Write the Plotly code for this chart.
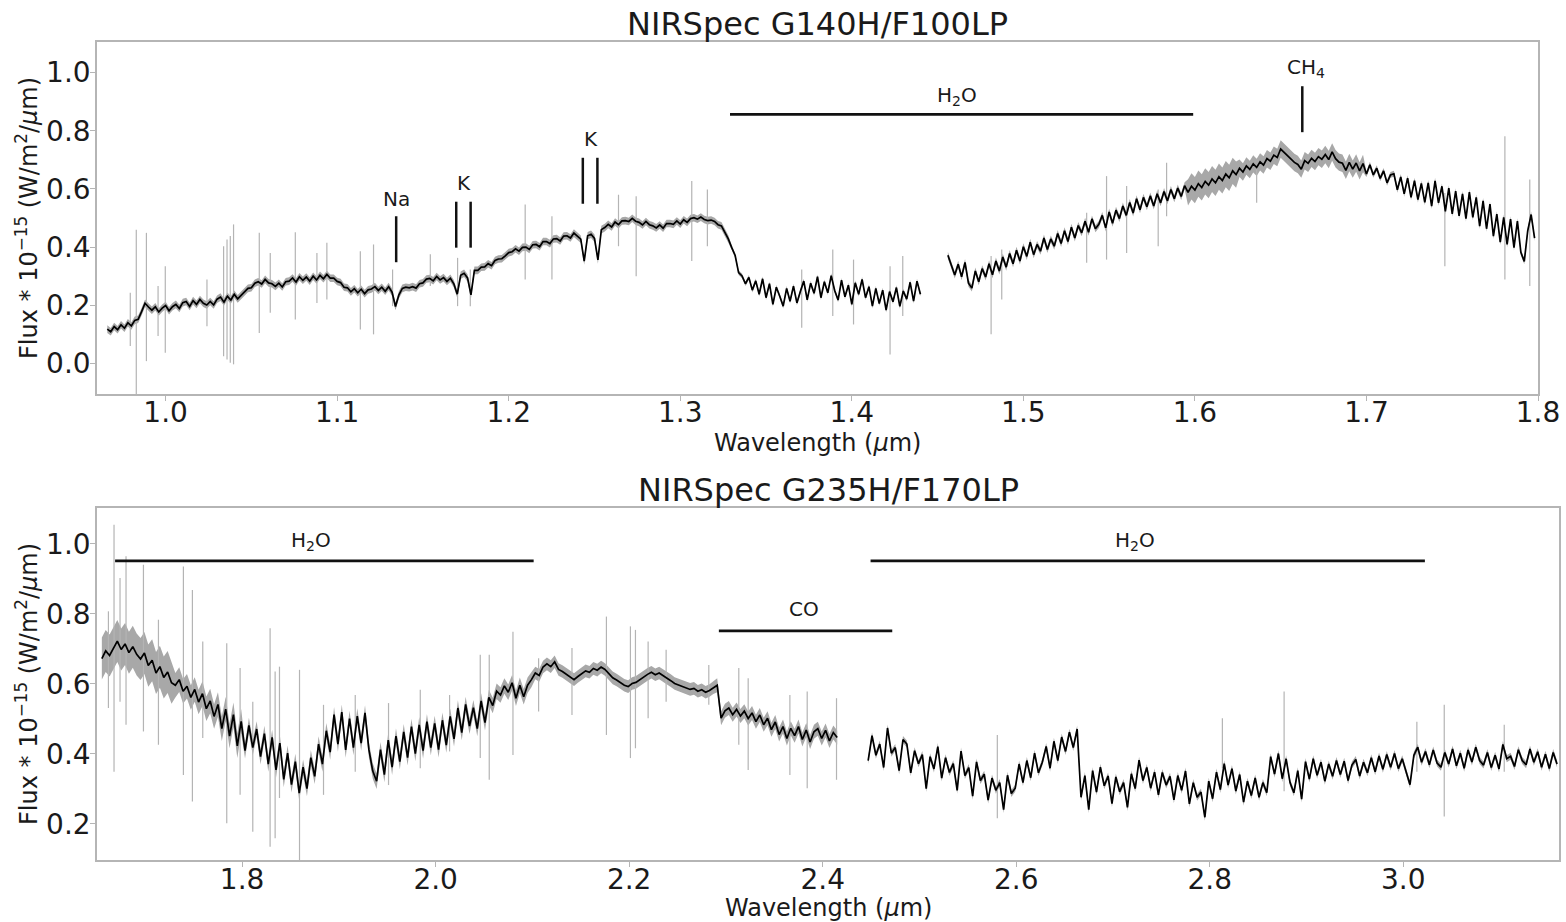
import numpy as np
import plotly.graph_objects as go

# ---------------------------------------------------------------------------
# NIRSpec G140H/F100LP : flux in units of 1e-15 W/m^2/um, two detector segments
# ---------------------------------------------------------------------------
g140h_a_range = (0.966, 1.440)
g140h_a_flux = [
    0.118, 0.109, 0.127, 0.116, 0.133, 0.121, 0.140, 0.129, 0.148, 0.152,
    0.178, 0.207, 0.194, 0.183, 0.195, 0.177, 0.190, 0.199, 0.181, 0.195,
    0.203, 0.189, 0.209, 0.213, 0.196, 0.216, 0.203, 0.220, 0.207, 0.201,
    0.213, 0.201, 0.221, 0.228, 0.211, 0.231, 0.218, 0.238, 0.222, 0.234,
    0.243, 0.258, 0.260, 0.276, 0.281, 0.273, 0.289, 0.277, 0.274, 0.265,
    0.276, 0.263, 0.281, 0.283, 0.294, 0.280, 0.298, 0.286, 0.297, 0.283,
    0.300, 0.287, 0.303, 0.291, 0.306, 0.293, 0.293, 0.282, 0.278, 0.262,
    0.260, 0.246, 0.257, 0.243, 0.255, 0.240, 0.253, 0.256, 0.264, 0.251,
    0.262, 0.248, 0.264, 0.245, 0.196, 0.236, 0.258, 0.262, 0.260, 0.264,
    0.259, 0.274, 0.277, 0.290, 0.292, 0.284, 0.299, 0.287, 0.295, 0.282,
    0.293, 0.274, 0.238, 0.303, 0.310, 0.294, 0.236, 0.320, 0.320, 0.331,
    0.332, 0.343, 0.336, 0.354, 0.359, 0.360, 0.370, 0.381, 0.384, 0.394,
    0.386, 0.399, 0.400, 0.392, 0.408, 0.409, 0.401, 0.419, 0.419, 0.412,
    0.428, 0.429, 0.421, 0.438, 0.439, 0.431, 0.448, 0.436, 0.427, 0.352,
    0.439, 0.444, 0.430, 0.356, 0.460, 0.467, 0.478, 0.469, 0.486, 0.477,
    0.490, 0.491, 0.488, 0.499, 0.489, 0.485, 0.476, 0.488, 0.477, 0.473,
    0.466, 0.476, 0.465, 0.481, 0.481, 0.478, 0.490, 0.479, 0.494, 0.485,
    0.498, 0.501, 0.496, 0.503, 0.495, 0.491, 0.493, 0.488, 0.477, 0.473,
    0.452, 0.428, 0.398, 0.371, 0.312, 0.301, 0.274, 0.296, 0.252, 0.284,
    0.238, 0.291, 0.226, 0.274, 0.203, 0.262, 0.231, 0.197, 0.258, 0.214,
    0.266, 0.208, 0.247, 0.283, 0.219, 0.276, 0.241, 0.298, 0.226, 0.281,
    0.243, 0.302, 0.251, 0.218, 0.286, 0.229, 0.269, 0.203, 0.277, 0.238,
    0.289, 0.226, 0.264, 0.197, 0.258, 0.206, 0.252, 0.183, 0.247, 0.212,
    0.261, 0.196, 0.249, 0.221, 0.279, 0.214, 0.283, 0.238,
]
g140h_b_range = (1.456, 1.798)
g140h_b_flux = [
    0.372, 0.336, 0.304, 0.341, 0.298, 0.347, 0.276, 0.259, 0.318, 0.281,
    0.326, 0.297, 0.343, 0.305, 0.352, 0.318, 0.366, 0.331, 0.378, 0.343,
    0.389, 0.352, 0.401, 0.368, 0.417, 0.374, 0.409, 0.386, 0.431, 0.392,
    0.428, 0.403, 0.447, 0.412, 0.456, 0.419, 0.468, 0.431, 0.474, 0.449,
    0.489, 0.451, 0.497, 0.463, 0.478, 0.509, 0.466, 0.521, 0.482, 0.527,
    0.498, 0.541, 0.509, 0.553, 0.517, 0.566, 0.528, 0.571, 0.539, 0.576,
    0.541, 0.583, 0.552, 0.591, 0.559, 0.598, 0.566, 0.603, 0.574, 0.611,
    0.588, 0.609, 0.596, 0.618, 0.605, 0.626, 0.613, 0.634, 0.621, 0.642,
    0.629, 0.651, 0.638, 0.662, 0.649, 0.671, 0.658, 0.679, 0.667, 0.686,
    0.674, 0.693, 0.682, 0.704, 0.695, 0.716, 0.708, 0.737, 0.726, 0.712,
    0.703, 0.691, 0.684, 0.668, 0.697, 0.688, 0.705, 0.694, 0.711, 0.702,
    0.718, 0.701, 0.727, 0.704, 0.692, 0.688, 0.664, 0.691, 0.668, 0.689,
    0.662, 0.687, 0.651, 0.683, 0.648, 0.671, 0.636, 0.662, 0.621, 0.648,
    0.652, 0.597, 0.641, 0.583, 0.637, 0.571, 0.628, 0.563, 0.619, 0.554,
    0.621, 0.541, 0.628, 0.552, 0.609, 0.523, 0.603, 0.514, 0.592, 0.507,
    0.583, 0.498, 0.589, 0.502, 0.571, 0.472, 0.559, 0.463, 0.548, 0.438,
    0.513, 0.417, 0.502, 0.409, 0.496, 0.398, 0.489, 0.382, 0.351, 0.456,
    0.512, 0.431,
]
# 1-sigma uncertainty, constant from each start wavelength onward
g140h_err_steps = [(0.96, 0.013), (1.33, 0.008), (1.45, 0.012),
                   (1.595, 0.045), (1.625, 0.030), (1.70, 0.010)]
# pixels with large error bars
g140h_spike_wave = [0.9794, 0.9829, 0.9888, 0.9956, 0.9998, 1.0241, 1.0338, 1.0358,
                    1.0377, 1.0396, 1.0546, 1.0610, 1.0756, 1.0882, 1.0940, 1.1135,
                    1.1212, 1.1323, 1.1543, 1.1702, 1.1776, 1.2096, 1.2252, 1.2640,
                    1.2743, 1.3067, 1.3158, 1.3708, 1.3889, 1.4010, 1.4223, 1.4297,
                    1.4812, 1.4874, 1.5369, 1.5485, 1.5602, 1.5786, 1.5835, 1.6360,
                    1.7457, 1.7807, 1.7952]
g140h_spike_lo = [0.060, -0.120, 0.008, 0.094, 0.037, 0.128, 0.025, 0.014,
                  0.002, -0.003, 0.105, 0.174, 0.151, 0.208, 0.220, 0.117,
                  0.100, 0.197, 0.266, 0.197, 0.197, 0.289, 0.289, 0.403,
                  0.300, 0.352, 0.403, 0.123, 0.163, 0.134, 0.031, 0.163,
                  0.100, 0.220, 0.346, 0.357, 0.380, 0.403, 0.506, 0.552,
                  0.334, 0.289, 0.266]
g140h_spike_hi = [0.243, 0.460, 0.449, 0.266, 0.334, 0.289, 0.403, 0.426,
                  0.438, 0.478, 0.449, 0.380, 0.451, 0.380, 0.415, 0.386,
                  0.409, 0.323, 0.375, 0.363, 0.323, 0.546, 0.506, 0.580,
                  0.575, 0.627, 0.598, 0.323, 0.392, 0.357, 0.334, 0.369,
                  0.369, 0.392, 0.518, 0.644, 0.610, 0.598, 0.690, 0.678,
                  0.586, 0.781, 0.632]

# ---------------------------------------------------------------------------
# NIRSpec G235H/F170LP
# ---------------------------------------------------------------------------
g235h_a_range = (1.655, 2.415)
g235h_a_flux = [
    0.672, 0.694, 0.681, 0.703, 0.722, 0.698, 0.714, 0.689, 0.706, 0.684,
    0.671, 0.688, 0.652, 0.667, 0.631, 0.649, 0.618, 0.634, 0.603, 0.596,
    0.612, 0.579, 0.593, 0.561, 0.584, 0.548, 0.572, 0.529, 0.551, 0.507,
    0.541, 0.472, 0.528, 0.451, 0.512, 0.423, 0.493, 0.409, 0.481, 0.418,
    0.471, 0.392, 0.458, 0.371, 0.447, 0.354, 0.431, 0.327, 0.402, 0.312,
    0.378, 0.288, 0.362, 0.301, 0.389, 0.336, 0.428, 0.371, 0.466, 0.405,
    0.512, 0.428, 0.519, 0.411, 0.501, 0.418, 0.508, 0.431, 0.517, 0.412,
    0.351, 0.322, 0.412, 0.341, 0.439, 0.362, 0.451, 0.378, 0.463, 0.389,
    0.478, 0.401, 0.483, 0.409, 0.492, 0.418, 0.487, 0.412, 0.496, 0.425,
    0.507, 0.443, 0.531, 0.461, 0.541, 0.479, 0.532, 0.472, 0.551, 0.489,
    0.561, 0.538, 0.579, 0.568, 0.594, 0.576, 0.603, 0.559, 0.596, 0.563,
    0.596, 0.612, 0.631, 0.624, 0.648, 0.657, 0.649, 0.663, 0.641, 0.635,
    0.627, 0.619, 0.612, 0.621, 0.628, 0.637, 0.633, 0.644, 0.639, 0.648,
    0.641, 0.629, 0.617, 0.611, 0.603, 0.596, 0.592, 0.601, 0.604, 0.612,
    0.619, 0.627, 0.633, 0.626, 0.631, 0.624, 0.618, 0.609, 0.601, 0.597,
    0.593, 0.589, 0.584, 0.587, 0.579, 0.583, 0.576, 0.581, 0.589, 0.596,
    0.502, 0.523, 0.531, 0.512, 0.527, 0.508, 0.522, 0.501, 0.517, 0.492,
    0.511, 0.483, 0.502, 0.469, 0.491, 0.455, 0.478, 0.444, 0.473, 0.452,
    0.478, 0.441, 0.468, 0.434, 0.463, 0.472, 0.444, 0.467, 0.437, 0.461,
    0.447,
]
g235h_b_range = (2.447, 3.159)
g235h_b_flux = [
    0.381, 0.452, 0.396, 0.428, 0.361, 0.474, 0.402, 0.418, 0.352, 0.441,
    0.428, 0.346, 0.409, 0.372, 0.398, 0.301, 0.392, 0.357, 0.421, 0.331,
    0.389, 0.347, 0.372, 0.296, 0.408, 0.338, 0.361, 0.279, 0.377, 0.324,
    0.342, 0.268, 0.331, 0.296, 0.318, 0.241, 0.339, 0.287, 0.302, 0.371,
    0.318, 0.381, 0.332, 0.402, 0.346, 0.376, 0.421, 0.359, 0.436, 0.381,
    0.448, 0.407, 0.462, 0.418, 0.471, 0.276, 0.338, 0.241, 0.352, 0.291,
    0.362, 0.309, 0.337, 0.258, 0.334, 0.292, 0.318, 0.247, 0.343, 0.301,
    0.382, 0.324, 0.361, 0.302, 0.348, 0.283, 0.347, 0.311, 0.336, 0.269,
    0.338, 0.296, 0.351, 0.257, 0.318, 0.276, 0.291, 0.219, 0.322, 0.272,
    0.348, 0.298, 0.372, 0.311, 0.358, 0.294, 0.341, 0.262, 0.322, 0.281,
    0.331, 0.276, 0.318, 0.289, 0.392, 0.342, 0.401, 0.329, 0.386, 0.318,
    0.289, 0.352, 0.271, 0.378, 0.328, 0.386, 0.339, 0.376, 0.322, 0.371,
    0.336, 0.381, 0.341, 0.379, 0.324, 0.368, 0.384, 0.337, 0.376, 0.346,
    0.389, 0.349, 0.394, 0.356, 0.398, 0.362, 0.401, 0.358, 0.386, 0.346,
    0.312, 0.396, 0.419, 0.376, 0.407, 0.369, 0.411, 0.374, 0.362, 0.404,
    0.371, 0.414, 0.366, 0.402, 0.359, 0.411, 0.377, 0.419, 0.381, 0.368,
    0.404, 0.361, 0.396, 0.357, 0.427, 0.386, 0.393, 0.364, 0.412, 0.381,
    0.369, 0.414, 0.376, 0.406, 0.362, 0.399, 0.358, 0.404, 0.371,
]
g235h_err_steps = [(1.65, 0.060), (1.73, 0.035), (1.80, 0.022), (2.10, 0.018),
                   (2.29, 0.020), (2.44, 0.010)]
g235h_spike_wave = [1.6618, 1.6676, 1.6738, 1.6800, 1.6980, 1.7135, 1.7393, 1.7486,
                    1.7593, 1.7841, 1.7979, 1.8110, 1.8289, 1.8341, 1.8386, 1.8593,
                    1.8841, 1.9169, 1.9513, 1.9841, 2.0144, 2.0461, 2.0554, 2.0799,
                    2.1064, 2.1409, 2.1765, 2.2013, 2.2065, 2.2196, 2.2382, 2.2823,
                    2.3133, 2.3230, 2.3661, 2.3840, 2.4143, 2.5805, 2.8131, 2.8769,
                    3.0141, 3.0424, 3.1044]
g235h_spike_lo = [0.531, 0.349, 0.549, 0.483, 0.464, 0.426, 0.340, 0.264,
                  0.445, 0.202, 0.283, 0.178, 0.135, 0.159, 0.274, 0.080,
                  0.283, 0.349, 0.311, 0.359, 0.407, 0.388, 0.326, 0.397,
                  0.521, 0.511, 0.454, 0.388, 0.416, 0.502, 0.549, 0.540,
                  0.426, 0.354, 0.340, 0.302, 0.326, 0.216, 0.359, 0.293,
                  0.349, 0.221, 0.349]
g235h_spike_hi = [0.807, 1.054, 0.902, 0.964, 0.940, 0.783, 0.935, 0.868,
                  0.721, 0.716, 0.645, 0.549, 0.759, 0.635, 0.649, 0.640,
                  0.540, 0.568, 0.545, 0.583, 0.568, 0.683, 0.683, 0.749,
                  0.673, 0.702, 0.792, 0.764, 0.754, 0.721, 0.697, 0.654,
                  0.645, 0.616, 0.568, 0.578, 0.559, 0.454, 0.502, 0.578,
                  0.492, 0.540, 0.483]

# Feature markers: vertical ticks (wavelength, y0, y1) and band bars (x0, x1, y)
g140h_line_ticks = [(1.1344, 0.348, 0.506), (1.1694, 0.398, 0.556), (1.1778, 0.398, 0.556),
                    (1.2432, 0.549, 0.707), (1.2517, 0.549, 0.707), (1.6626, 0.795, 0.953)]
g140h_bands = [(1.329, 1.599, 0.856)]
g140h_labels = [("Na", 1.1344, 0.567), ("K", 1.1737, 0.619), ("K", 1.2480, 0.770),
                ("H<sub>2</sub>O", 1.4611, 0.921), ("CH<sub>4</sub>", 1.6650, 1.017)]
g235h_bands = [(1.6687, 2.1013, 0.951), (2.2927, 2.4719, 0.751), (2.4495, 3.0224, 0.951)]
g235h_labels = [("H<sub>2</sub>O", 1.871, 1.009), ("CO", 2.3806, 0.814),
                ("H<sub>2</sub>O", 2.7223, 1.009)]

FONT = "DejaVu Sans"
TEXT = "#1a1a1a"
FRAME = "#b5b5b5"
BAND = "#a8a8a8"
SPIKE = "#b4b4b4"

W, H = 1566, 922


def seg_wave(rng, flux):
    return np.linspace(rng[0], rng[1], len(flux))


def seg_err(wave, steps):
    err = np.zeros_like(wave)
    for w0, e in steps:
        err[wave >= w0] = e
    return err


def spike_xy(wave, lo, hi):
    xs, ys = [], []
    for w, a, b in zip(wave, lo, hi):
        xs += [w, w, None]
        ys += [a, b, None]
    return xs, ys


fig = go.Figure()


def add_panel(segments, steps, spikes, xa, ya):
    # uncertainty envelope
    for rng, flux in segments:
        w = seg_wave(rng, flux)
        f = np.array(flux)
        e = seg_err(w, steps)
        fig.add_trace(go.Scatter(x=w, y=f - e, mode="lines", line=dict(width=0, color=BAND),
                                 hoverinfo="skip", showlegend=False, xaxis=xa, yaxis=ya))
        fig.add_trace(go.Scatter(x=w, y=f + e, mode="lines", line=dict(width=0, color=BAND),
                                 fill="tonexty", fillcolor=BAND,
                                 hoverinfo="skip", showlegend=False, xaxis=xa, yaxis=ya))
    sx, sy = spike_xy(*spikes)
    fig.add_trace(go.Scatter(x=sx, y=sy, mode="lines", line=dict(width=1.2, color=SPIKE),
                             hoverinfo="skip", showlegend=False, xaxis=xa, yaxis=ya))
    for rng, flux in segments:
        fig.add_trace(go.Scatter(x=seg_wave(rng, flux), y=flux, mode="lines",
                                 line=dict(width=1.7, color="#000000"),
                                 showlegend=False, xaxis=xa, yaxis=ya))


add_panel([(g140h_a_range, g140h_a_flux), (g140h_b_range, g140h_b_flux)],
          g140h_err_steps, (g140h_spike_wave, g140h_spike_lo, g140h_spike_hi), "x", "y")
add_panel([(g235h_a_range, g235h_a_flux), (g235h_b_range, g235h_b_flux)],
          g235h_err_steps, (g235h_spike_wave, g235h_spike_lo, g235h_spike_hi), "x2", "y2")

shapes = []
for w, y0, y1 in g140h_line_ticks:
    shapes.append(dict(type="line", xref="x", yref="y", x0=w, x1=w, y0=y0, y1=y1,
                       line=dict(color="#111111", width=2.5)))
for x0, x1, y in g140h_bands:
    shapes.append(dict(type="line", xref="x", yref="y", x0=x0, x1=x1, y0=y, y1=y,
                       line=dict(color="#111111", width=2.8)))
for x0, x1, y in g235h_bands:
    shapes.append(dict(type="line", xref="x2", yref="y2", x0=x0, x1=x1, y0=y, y1=y,
                       line=dict(color="#111111", width=2.8)))

annotations = []
for txt, x, y in g140h_labels:
    annotations.append(dict(text=txt, x=x, y=y, xref="x", yref="y", showarrow=False,
                            xanchor="center", yanchor="middle",
                            font=dict(family=FONT, size=20, color=TEXT)))
for txt, x, y in g235h_labels:
    annotations.append(dict(text=txt, x=x, y=y, xref="x2", yref="y2", showarrow=False,
                            xanchor="center", yanchor="middle",
                            font=dict(family=FONT, size=20, color=TEXT)))

# panel geometry in pixels
top_box = (97, 1538, 42, 394)
bot_box = (97, 1559, 508, 860)


def px_x(p):
    return p / W


def px_y(p):
    return 1 - p / H


def add_text(txt, xp, yp, size, angle=0):
    annotations.append(dict(text=txt, x=px_x(xp), y=px_y(yp), xref="paper", yref="paper",
                            showarrow=False, xanchor="center", yanchor="middle",
                            textangle=angle, font=dict(family=FONT, size=size, color=TEXT)))


for box, title, title_y, xlab_y in [(top_box, "NIRSpec G140H/F100LP", 24, 443),
                                    (bot_box, "NIRSpec G235H/F170LP", 490, 908)]:
    cx = (box[0] + box[1]) / 2
    cy = (box[2] + box[3]) / 2
    add_text(title, cx, title_y, 32)
    add_text("Wavelength (<i>µ</i>m)", cx, xlab_y, 24)
    add_text("Flux * 10<sup>−15</sup> (W/m<sup>2</sup>/<i>µ</i>m)", 27, cy, 24, angle=-90)

axis_common = dict(showline=True, linecolor=FRAME, linewidth=1.5, mirror=True,
                   ticks="outside", ticklen=5, tickwidth=1.2, tickcolor=FRAME,
                   showgrid=False, zeroline=False, automargin=False,
                   tickfont=dict(family=FONT, size=28, color=TEXT))

fig.update_layout(
    width=W, height=H,
    margin=dict(l=0, r=0, t=0, b=0),
    paper_bgcolor="white", plot_bgcolor="white",
    showlegend=False,
    font=dict(family=FONT, color=TEXT),
    shapes=shapes, annotations=annotations,
    xaxis=dict(domain=[px_x(top_box[0]), px_x(top_box[1])], range=[0.96, 1.80],
               tickvals=[1.0, 1.1, 1.2, 1.3, 1.4, 1.5, 1.6, 1.7, 1.8],
               ticktext=["1.0", "1.1", "1.2", "1.3", "1.4", "1.5", "1.6", "1.7", "1.8"],
               ticklabelstandoff=-12, anchor="y", **axis_common),
    yaxis=dict(domain=[px_y(top_box[3]), px_y(top_box[2])], range=[-0.105, 1.105],
               tickvals=[0.0, 0.2, 0.4, 0.6, 0.8, 1.0],
               ticktext=["0.0", "0.2", "0.4", "0.6", "0.8", "1.0"],
               ticklabelstandoff=-6, anchor="x", **axis_common),
    xaxis2=dict(domain=[px_x(bot_box[0]), px_x(bot_box[1])], range=[1.65, 3.161],
                tickvals=[1.8, 2.0, 2.2, 2.4, 2.6, 2.8, 3.0],
                ticktext=["1.8", "2.0", "2.2", "2.4", "2.6", "2.8", "3.0"],
                ticklabelstandoff=-11, anchor="y2", **axis_common),
    yaxis2=dict(domain=[px_y(bot_box[3]), px_y(bot_box[2])], range=[0.097, 1.102],
                tickvals=[0.2, 0.4, 0.6, 0.8, 1.0],
                ticktext=["0.2", "0.4", "0.6", "0.8", "1.0"],
                ticklabelstandoff=-6, anchor="x2", **axis_common),
)

fig.write_html("out.html")
